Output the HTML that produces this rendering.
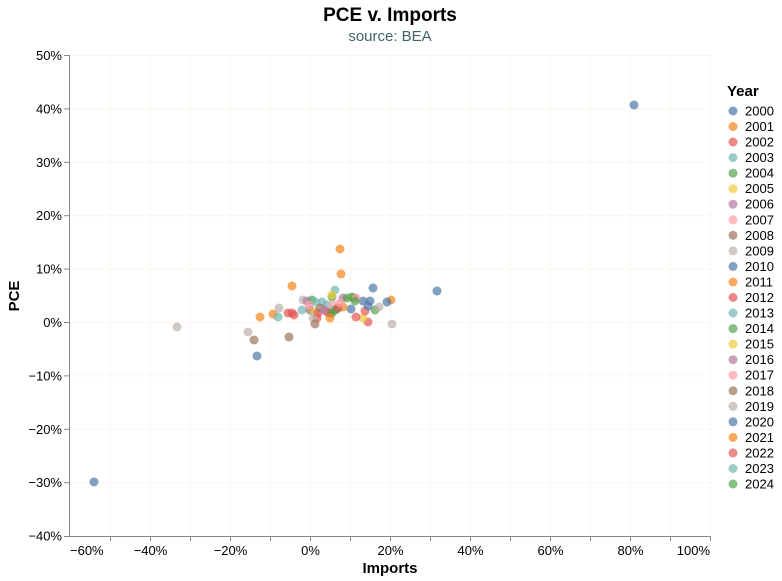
<!DOCTYPE html>
<html><head><meta charset="utf-8"><style>
body{margin:0;background:#fff;}
svg{display:block;font-family:"Liberation Sans",Arial,sans-serif;}
</style></head><body>
<svg width="782" height="581" viewBox="0 0 782 581">
<text x="390" y="21" text-anchor="middle" font-size="19" font-weight="bold" fill="#000">PCE v. Imports</text>
<text x="390" y="41" text-anchor="middle" font-size="15" fill="#3f6464">source: BEA</text>
<g stroke="#fef3ec" stroke-width="1">
<line x1="69" x2="711" y1="55.5" y2="55.5"/><line x1="69" x2="711" y1="108.9" y2="108.9"/><line x1="69" x2="711" y1="162.3" y2="162.3"/><line x1="69" x2="711" y1="215.7" y2="215.7"/><line x1="69" x2="711" y1="269.1" y2="269.1"/><line x1="69" x2="711" y1="322.5" y2="322.5"/><line x1="69" x2="711" y1="375.9" y2="375.9"/><line x1="69" x2="711" y1="429.3" y2="429.3"/><line x1="69" x2="711" y1="482.7" y2="482.7"/>
<line y1="55" y2="536" x1="110.5" x2="110.5"/><line y1="55" y2="536" x1="150.5" x2="150.5"/><line y1="55" y2="536" x1="190.5" x2="190.5"/><line y1="55" y2="536" x1="230.5" x2="230.5"/><line y1="55" y2="536" x1="270.5" x2="270.5"/><line y1="55" y2="536" x1="310.5" x2="310.5"/><line y1="55" y2="536" x1="350.5" x2="350.5"/><line y1="55" y2="536" x1="390.5" x2="390.5"/><line y1="55" y2="536" x1="430.5" x2="430.5"/><line y1="55" y2="536" x1="470.5" x2="470.5"/><line y1="55" y2="536" x1="510.5" x2="510.5"/><line y1="55" y2="536" x1="550.5" x2="550.5"/><line y1="55" y2="536" x1="590.5" x2="590.5"/><line y1="55" y2="536" x1="630.5" x2="630.5"/><line y1="55" y2="536" x1="670.5" x2="670.5"/><line y1="55" y2="536" x1="710.5" x2="710.5"/>
</g>
<g stroke="#888" stroke-width="1">
<line x1="69.5" x2="69.5" y1="55" y2="536"/><line x1="69" x2="711" y1="536.5" y2="536.5"/>
<line x1="64" x2="69" y1="55.5" y2="55.5"/><line x1="64" x2="69" y1="108.9" y2="108.9"/><line x1="64" x2="69" y1="162.3" y2="162.3"/><line x1="64" x2="69" y1="215.7" y2="215.7"/><line x1="64" x2="69" y1="269.1" y2="269.1"/><line x1="64" x2="69" y1="322.5" y2="322.5"/><line x1="64" x2="69" y1="375.9" y2="375.9"/><line x1="64" x2="69" y1="429.3" y2="429.3"/><line x1="64" x2="69" y1="482.7" y2="482.7"/><line x1="64" x2="69" y1="536.5" y2="536.5"/>
<line y1="536" y2="541" x1="110.5" x2="110.5"/><line y1="536" y2="541" x1="150.5" x2="150.5"/><line y1="536" y2="541" x1="190.5" x2="190.5"/><line y1="536" y2="541" x1="230.5" x2="230.5"/><line y1="536" y2="541" x1="270.5" x2="270.5"/><line y1="536" y2="541" x1="310.5" x2="310.5"/><line y1="536" y2="541" x1="350.5" x2="350.5"/><line y1="536" y2="541" x1="390.5" x2="390.5"/><line y1="536" y2="541" x1="430.5" x2="430.5"/><line y1="536" y2="541" x1="470.5" x2="470.5"/><line y1="536" y2="541" x1="510.5" x2="510.5"/><line y1="536" y2="541" x1="550.5" x2="550.5"/><line y1="536" y2="541" x1="590.5" x2="590.5"/><line y1="536" y2="541" x1="630.5" x2="630.5"/><line y1="536" y2="541" x1="670.5" x2="670.5"/><line y1="536" y2="541" x1="710.5" x2="710.5"/>
</g>
<g font-size="13" fill="#000" text-anchor="end">
<text x="62" y="60">50%</text><text x="62" y="113.4">40%</text><text x="62" y="166.8">30%</text><text x="62" y="220.2">20%</text><text x="62" y="273.6">10%</text><text x="62" y="327">0%</text><text x="62" y="380.4">−10%</text><text x="62" y="433.8">−20%</text><text x="62" y="487.2">−30%</text><text x="62" y="540.5">−40%</text>
</g>
<g font-size="13" fill="#000" text-anchor="middle">
<text x="70" y="555" text-anchor="start">−60%</text><text x="150.5" y="555">−40%</text><text x="230.5" y="555">−20%</text><text x="310.5" y="555">0%</text><text x="390.5" y="555">20%</text><text x="470.5" y="555">40%</text><text x="550.5" y="555">60%</text><text x="630.5" y="555">80%</text><text x="710" y="555" text-anchor="end">100%</text>
</g>
<text x="390" y="573" text-anchor="middle" font-size="15" font-weight="bold">Imports</text>
<text transform="translate(19,296) rotate(-90)" text-anchor="middle" font-size="15" font-weight="bold">PCE</text>
<g fill-opacity="0.7">
<circle cx="634" cy="105" r="4.5" fill="#4c78a8"/>
<circle cx="94" cy="482" r="4.5" fill="#4c78a8"/>
<circle cx="437" cy="291" r="4.5" fill="#4c78a8"/>
<circle cx="257" cy="356" r="4.5" fill="#4c78a8"/>
<circle cx="177" cy="327" r="4.5" fill="#bab0ac"/>
<circle cx="340" cy="249" r="4.5" fill="#f58518"/>
<circle cx="341" cy="274" r="4.5" fill="#f58518"/>
<circle cx="292" cy="286" r="4.5" fill="#f58518"/>
<circle cx="373" cy="288" r="4.5" fill="#4c78a8"/>
<circle cx="391" cy="300" r="4.5" fill="#f58518"/>
<circle cx="387" cy="302" r="4.5" fill="#4c78a8"/>
<circle cx="260" cy="317" r="4.5" fill="#f58518"/>
<circle cx="273" cy="314" r="4.5" fill="#f58518"/>
<circle cx="279" cy="308" r="4.5" fill="#bab0ac"/>
<circle cx="278" cy="317" r="4.5" fill="#72b7b2"/>
<circle cx="248" cy="332" r="4.5" fill="#bab0ac"/>
<circle cx="254" cy="340" r="4.5" fill="#9d755d"/>
<circle cx="289" cy="337" r="4.5" fill="#9d755d"/>
<circle cx="392" cy="324" r="4.5" fill="#bab0ac"/>
<circle cx="368" cy="322" r="4.5" fill="#e45756"/>
<circle cx="363" cy="318" r="4.5" fill="#eeca3b"/>
<circle cx="356" cy="317" r="4.5" fill="#e45756"/>
<circle cx="375" cy="310" r="4.5" fill="#54a24b"/>
<circle cx="379" cy="307" r="4.5" fill="#bab0ac"/>
<circle cx="365" cy="311" r="4.5" fill="#e45756"/>
<circle cx="363" cy="301" r="4.5" fill="#4c78a8"/>
<circle cx="370" cy="301" r="4.5" fill="#4c78a8"/>
<circle cx="368" cy="306" r="4.5" fill="#4c78a8"/>
<circle cx="351" cy="309" r="4.5" fill="#4c78a8"/>
<circle cx="335" cy="290" r="4.5" fill="#72b7b2"/>
<circle cx="332" cy="297" r="4.5" fill="#54a24b"/>
<circle cx="332" cy="295" r="4.5" fill="#eeca3b"/>
<circle cx="343" cy="298" r="4.5" fill="#b279a2"/>
<circle cx="347" cy="298" r="4.5" fill="#54a24b"/>
<circle cx="352" cy="297" r="4.5" fill="#54a24b"/>
<circle cx="354" cy="298" r="4.5" fill="#54a24b"/>
<circle cx="356" cy="298" r="4.5" fill="#ff9da6"/>
<circle cx="355" cy="301" r="4.5" fill="#54a24b"/>
<circle cx="343" cy="307" r="4.5" fill="#f58518"/>
<circle cx="303" cy="300" r="4.5" fill="#bab0ac"/>
<circle cx="307" cy="301" r="4.5" fill="#b279a2"/>
<circle cx="312" cy="300" r="4.5" fill="#54a24b"/>
<circle cx="315" cy="302" r="4.5" fill="#72b7b2"/>
<circle cx="322" cy="302" r="4.5" fill="#72b7b2"/>
<circle cx="327" cy="305" r="4.5" fill="#72b7b2"/>
<circle cx="302" cy="310" r="4.5" fill="#72b7b2"/>
<circle cx="288" cy="313" r="4.5" fill="#e45756"/>
<circle cx="292" cy="313" r="4.5" fill="#e45756"/>
<circle cx="294" cy="315" r="4.5" fill="#e45756"/>
<circle cx="310" cy="310" r="4.5" fill="#9d755d"/>
<circle cx="315" cy="312" r="4.5" fill="#eeca3b"/>
<circle cx="318" cy="313" r="4.5" fill="#e45756"/>
<circle cx="317" cy="318" r="4.5" fill="#e45756"/>
<circle cx="313" cy="318" r="4.5" fill="#bab0ac"/>
<circle cx="315" cy="324" r="4.5" fill="#9d755d"/>
<circle cx="327" cy="312" r="4.5" fill="#e45756"/>
<circle cx="330" cy="313" r="4.5" fill="#e45756"/>
<circle cx="333" cy="305" r="4.5" fill="#ff9da6"/>
<circle cx="335" cy="310" r="4.5" fill="#54a24b"/>
<circle cx="337" cy="309" r="4.5" fill="#54a24b"/>
<circle cx="332" cy="313" r="4.5" fill="#54a24b"/>
<circle cx="330" cy="318" r="4.5" fill="#f58518"/>
<circle cx="338" cy="308" r="4.5" fill="#e45756"/>
<circle cx="320" cy="308" r="4.5" fill="#9d755d"/>
<circle cx="324" cy="310" r="4.5" fill="#b279a2"/>
<circle cx="309" cy="305" r="4.5" fill="#ff9da6"/>
<circle cx="340" cy="303" r="4.5" fill="#ff9da6"/>
</g>
<text x="727" y="96" font-size="15" font-weight="bold">Year</text>
<g font-size="13" fill="#000" fill-opacity="1">
<circle cx="733" cy="111" r="4.5" fill="#4c78a8" fill-opacity="0.7"/><text x="745" y="115.5">2000</text>
<circle cx="733" cy="126.5" r="4.5" fill="#f58518" fill-opacity="0.7"/><text x="745" y="131">2001</text>
<circle cx="733" cy="142" r="4.5" fill="#e45756" fill-opacity="0.7"/><text x="745" y="146.5">2002</text>
<circle cx="733" cy="157.6" r="4.5" fill="#72b7b2" fill-opacity="0.7"/><text x="745" y="162.1">2003</text>
<circle cx="733" cy="173.2" r="4.5" fill="#54a24b" fill-opacity="0.7"/><text x="745" y="177.7">2004</text>
<circle cx="733" cy="188.7" r="4.5" fill="#eeca3b" fill-opacity="0.7"/><text x="745" y="193.2">2005</text>
<circle cx="733" cy="204.2" r="4.5" fill="#b279a2" fill-opacity="0.7"/><text x="745" y="208.7">2006</text>
<circle cx="733" cy="219.8" r="4.5" fill="#ff9da6" fill-opacity="0.7"/><text x="745" y="224.3">2007</text>
<circle cx="733" cy="235.3" r="4.5" fill="#9d755d" fill-opacity="0.7"/><text x="745" y="239.8">2008</text>
<circle cx="733" cy="250.9" r="4.5" fill="#bab0ac" fill-opacity="0.7"/><text x="745" y="255.4">2009</text>
<circle cx="733" cy="266.4" r="4.5" fill="#4c78a8" fill-opacity="0.7"/><text x="745" y="270.9">2010</text>
<circle cx="733" cy="282" r="4.5" fill="#f58518" fill-opacity="0.7"/><text x="745" y="286.5">2011</text>
<circle cx="733" cy="297.5" r="4.5" fill="#e45756" fill-opacity="0.7"/><text x="745" y="302">2012</text>
<circle cx="733" cy="313" r="4.5" fill="#72b7b2" fill-opacity="0.7"/><text x="745" y="317.5">2013</text>
<circle cx="733" cy="328.6" r="4.5" fill="#54a24b" fill-opacity="0.7"/><text x="745" y="333.1">2014</text>
<circle cx="733" cy="344.1" r="4.5" fill="#eeca3b" fill-opacity="0.7"/><text x="745" y="348.6">2015</text>
<circle cx="733" cy="359.7" r="4.5" fill="#b279a2" fill-opacity="0.7"/><text x="745" y="364.2">2016</text>
<circle cx="733" cy="375.2" r="4.5" fill="#ff9da6" fill-opacity="0.7"/><text x="745" y="379.7">2017</text>
<circle cx="733" cy="390.8" r="4.5" fill="#9d755d" fill-opacity="0.7"/><text x="745" y="395.3">2018</text>
<circle cx="733" cy="406.3" r="4.5" fill="#bab0ac" fill-opacity="0.7"/><text x="745" y="410.8">2019</text>
<circle cx="733" cy="421.8" r="4.5" fill="#4c78a8" fill-opacity="0.7"/><text x="745" y="426.3">2020</text>
<circle cx="733" cy="437.4" r="4.5" fill="#f58518" fill-opacity="0.7"/><text x="745" y="441.9">2021</text>
<circle cx="733" cy="452.9" r="4.5" fill="#e45756" fill-opacity="0.7"/><text x="745" y="457.4">2022</text>
<circle cx="733" cy="468.5" r="4.5" fill="#72b7b2" fill-opacity="0.7"/><text x="745" y="473">2023</text>
<circle cx="733" cy="484" r="4.5" fill="#54a24b" fill-opacity="0.7"/><text x="745" y="488.5">2024</text>
</g>
</svg>
</body></html>
